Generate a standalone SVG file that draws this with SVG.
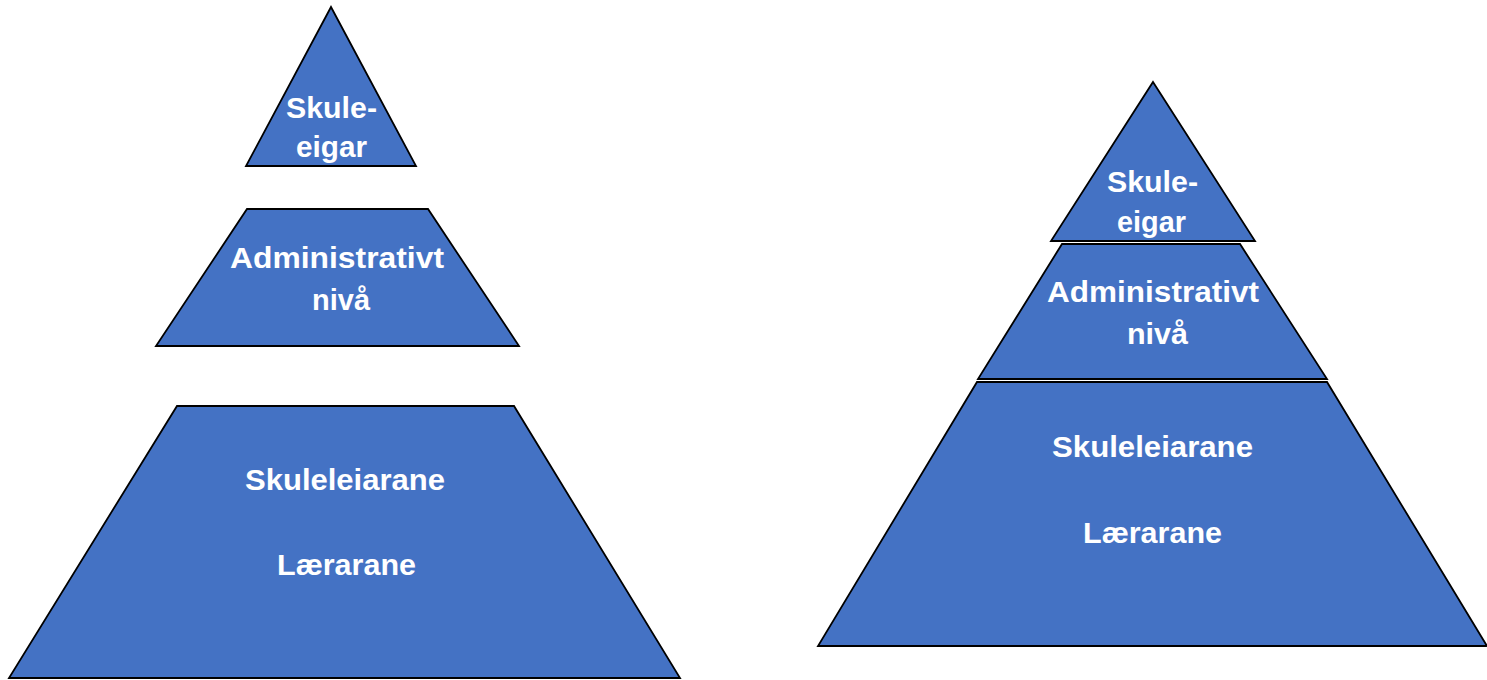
<svg xmlns="http://www.w3.org/2000/svg" width="1487" height="680" viewBox="0 0 1487 680">
<style>
.shape{fill:#4472C4;stroke:#000;stroke-width:1.8;stroke-linejoin:miter}
.lbl{fill:#fff;font-family:"Liberation Sans",Arial,sans-serif;font-weight:bold;font-size:30px}
</style>
<rect width="1487" height="680" fill="#fff"/>
<g id="left-top">
<polygon class="shape" points="331,7 416,166 246,166"/>
<text class="lbl" x="286" y="118" textLength="91" lengthAdjust="spacingAndGlyphs">Skule-</text>
<text class="lbl" x="296" y="157" textLength="71" lengthAdjust="spacingAndGlyphs">eigar</text>
</g>
<g id="left-middle">
<polygon class="shape" points="247,209 428,209 519,346 156,346"/>
<text class="lbl" x="230" y="268" textLength="214" lengthAdjust="spacingAndGlyphs">Administrativt</text>
<text class="lbl" x="312" y="310" textLength="58" lengthAdjust="spacingAndGlyphs">nivå</text>
</g>
<g id="left-bottom">
<polygon class="shape" points="177,406 514,406 680,678 9,678"/>
<text class="lbl" x="245" y="490" textLength="200" lengthAdjust="spacingAndGlyphs">Skuleleiarane</text>
<text class="lbl" x="277" y="575" textLength="139" lengthAdjust="spacingAndGlyphs">Lærarane</text>
</g>
<g id="right-bottom">
<polygon class="shape" points="977,382 1327,382 1487,646 818,646"/>
<text class="lbl" x="1052" y="457" textLength="201" lengthAdjust="spacingAndGlyphs">Skuleleiarane</text>
<text class="lbl" x="1083" y="543" textLength="139" lengthAdjust="spacingAndGlyphs">Lærarane</text>
</g>
<g id="right-middle">
<polygon class="shape" points="1062,244 1240,244 1327,379 978,379"/>
<text class="lbl" x="1047" y="302" textLength="212" lengthAdjust="spacingAndGlyphs">Administrativt</text>
<text class="lbl" x="1127" y="344" textLength="61" lengthAdjust="spacingAndGlyphs">nivå</text>
</g>
<g id="right-top">
<polygon class="shape" points="1153,82 1255,241 1051,241"/>
<text class="lbl" x="1107" y="192" textLength="91" lengthAdjust="spacingAndGlyphs">Skule-</text>
<text class="lbl" x="1117" y="232" textLength="69" lengthAdjust="spacingAndGlyphs">eigar</text>
</g>
<g id="connectors"/>
</svg>
